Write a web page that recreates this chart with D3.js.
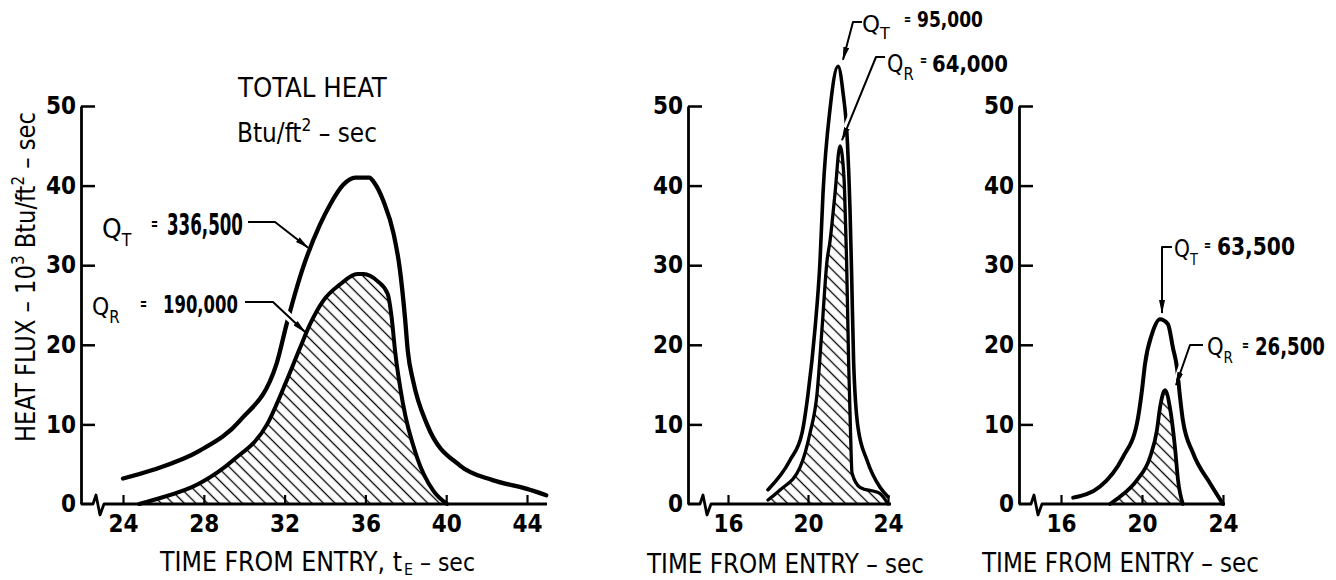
<!DOCTYPE html>
<html>
<head>
<meta charset="utf-8">
<script src="https://cdn.jsdelivr.net/npm/d3@7"></script>
<style>
  body { margin: 0; background: #fff; }
  svg { display: block; }
  text { font-family: "Liberation Sans Narrow", "DejaVu Sans Condensed", "Liberation Sans", sans-serif; fill: #000; }
</style>
</head>
<body>
<svg id="chart" width="1336" height="580"></svg>
<script>
// tick labels
var fluxTicks = [0, 10, 20, 30, 40, 50];
var longTimeTicks = [24, 28, 32, 36, 40, 44];
var shortTimeTicks = [16, 20, 24];

// left panel: total heat Q_T and radiative heat Q_R (10^3 Btu/ft2-sec vs sec)
var longTotalTime = [24, 25.5, 27.8, 29.8, 31.6, 32.1, 32.9, 33.75, 34.25, 34.9, 35.5, 36.2, 36.4, 36.9, 37.4, 37.7, 37.96, 38.1, 38.36, 39.05, 40.7, 42.3, 44, 44.95];
var longTotalFlux = [3.2, 4.3, 6.7, 10.5, 17.6, 22.6, 29.6, 35.1, 37.6, 40.1, 41, 41, 40.5, 38, 33.9, 29.6, 23.4, 19.2, 15.5, 10, 4.8, 3.0, 1.9, 1.1];
var longRadTime = [24.8, 25.5, 27.8, 29.45, 31.13, 32.1, 32.76, 33.26, 33.9, 34.75, 35.6, 35.9, 36.6, 37.1, 37.3, 37.47, 37.86, 38.55, 39.35, 40.04];
var longRadFlux = [0, 0.5, 2.6, 5.5, 10, 15.5, 19.6, 22.6, 25.5, 27.6, 28.9, 28.9, 28, 26.4, 23.4, 19.2, 12.6, 5.9, 1.7, 0];

// middle panel
var peakTotalTime = [18.0, 19.1, 19.7, 20.0, 20.35, 20.6, 20.75, 21.1, 21.5, 21.75, 21.97, 22.1, 22.18, 22.28, 22.5, 22.95, 23.6, 24.0];
var peakTotalFlux = [1.8, 5.5, 8.9, 13.8, 22, 30.5, 39, 49.6, 55, 51.7, 45.5, 37, 29, 18, 9.6, 5.5, 2.1, 0.9];
var peakRadTime = [18.0, 18.6, 19.6, 20.1, 20.45, 20.7, 20.95, 21.1, 21.35, 21.6, 21.8, 21.88, 21.93, 22.03, 22.12, 22.2, 22.6, 23.6, 24.0];
var peakRadFlux = [0.5, 1.75, 4.6, 8.9, 13.8, 22, 30.5, 33, 39, 45, 41, 35, 30.5, 18, 9.6, 3.9, 2.1, 1.3, 0];

// right panel
var lowTotalTime = [16.6, 17.93, 19.06, 19.75, 20.0, 20.15, 20.5, 20.89, 21.28, 21.53, 21.73, 21.88, 22.02, 22.52, 23.36, 24.0];
var lowTotalFlux = [0.8, 2.2, 5.9, 10.1, 14.3, 17.6, 21.4, 23.2, 22.6, 19.6, 17.1, 13.4, 10.5, 6.4, 2.6, 0];
var lowRadTime = [18.42, 18.91, 19.75, 20.4, 20.74, 20.89, 21.14, 21.38, 21.63, 21.78, 22.02];
var lowRadFlux = [0, 0.9, 3.0, 5.9, 9.3, 12.1, 14.3, 12.1, 7.1, 3.0, 0];

var sFont = '"Liberation Sans Narrow", "DejaVu Sans Condensed", "Liberation Sans", sans-serif';

var svg = d3.select("#chart");
var defs = svg.append("defs");

defs.append("pattern")
	.attr("id", "hatch")
	.attr("patternUnits", "userSpaceOnUse")
	.attr("width", 8.2).attr("height", 8.2)
	.attr("patternTransform", "rotate(-45)")
	.append("line")
		.attr("x1", 4.1).attr("y1", -1).attr("x2", 4.1).attr("y2", 9.2)
		.attr("stroke", "#000").attr("stroke-width", 1.3);

defs.append("marker")
	.attr("id", "arrow")
	.attr("viewBox", "0 0 14 6")
	.attr("refX", 13).attr("refY", 3)
	.attr("markerWidth", 14).attr("markerHeight", 6)
	.attr("markerUnits", "userSpaceOnUse")
	.attr("orient", "auto")
	.append("path").attr("d", "M0,0L14,3L0,6Z").attr("fill", "#000");

function DrawPanel(oPanel)
{
	var x = d3.scaleLinear().domain(oPanel.domain).range(oPanel.range);
	var y = d3.scaleLinear().domain([0, 50]).range([504, 106]);
	var g = svg.append("g");
	var x0 = oPanel.range[0], x1 = oPanel.range[1], y0 = y(0);

	var radPts = d3.zip(oPanel.radTime, oPanel.radFlux);
	var totPts = d3.zip(oPanel.totTime, oPanel.totFlux);

	var area = d3.area().curve(d3.curveMonotoneX)
		.x(function(d) { return x(d[0]); })
		.y0(y0)
		.y1(function(d) { return y(d[1]); });
	var line = d3.line().curve(d3.curveMonotoneX)
		.x(function(d) { return x(d[0]); })
		.y(function(d) { return y(d[1]); });

	g.append("path").datum(radPts).attr("d", area).attr("fill", "url(#hatch)");

	// time axis: ticks point up, labels below, the line itself drawn with a break
	var xAxis = g.append("g")
		.attr("transform", "translate(0," + y0 + ")")
		.call(d3.axisBottom(x).tickValues(oPanel.ticks).tickSize(-9).tickPadding(11).tickFormat(d3.format("d")));
	xAxis.select(".domain").remove();
	xAxis.attr("font-size", 24).attr("font-family", sFont).attr("font-weight", "bold");
	xAxis.selectAll(".tick line").attr("stroke-width", 2.2);

	g.append("path")
		.attr("d", d3.line()([[x0, y0], [x0 + 12, y0], [x0 + 15, y0 - 9], [x0 + 19, y0 + 11], [x0 + 23, y0], [x1, y0]]))
		.attr("fill", "none").attr("stroke", "#000").attr("stroke-width", 2.8).attr("stroke-linejoin", "round");

	var yAxis = g.append("g")
		.attr("transform", "translate(" + x0 + ",0)")
		.call(d3.axisLeft(y).tickValues(fluxTicks).tickSize(-14).tickSizeOuter(0).tickPadding(5));
	yAxis.attr("font-size", 24).attr("font-family", sFont).attr("font-weight", "bold");
	yAxis.select(".domain").attr("stroke-width", 2.8);
	yAxis.selectAll(".tick line").attr("stroke-width", 2.5);
	yAxis.selectAll(".tick").filter(function(d) { return d === 0; }).select("line").remove();

	g.append("path").datum(radPts).attr("d", line)
		.attr("fill", "none").attr("stroke", "#000").attr("stroke-width", oPanel.strokeR)
		.attr("stroke-linecap", "round").attr("stroke-linejoin", "round");
	g.append("path").datum(totPts).attr("d", line)
		.attr("fill", "none").attr("stroke", "#000").attr("stroke-width", oPanel.strokeT)
		.attr("stroke-linecap", "round").attr("stroke-linejoin", "round");

	return { g: g, x: x, y: y };
}

// text squeezed horizontally to a wanted width (the lettering is condensed)
// aParts: [text, fontSize, dy] pieces, the first is the text itself
function Txt(g, x, y, aParts, w, bold, rot)
{
	var t = g.append("text").attr("font-size", aParts[0][1]).text(aParts[0][0]);
	if (bold) t.attr("font-weight", "bold");
	for (var i = 1; i < aParts.length; i++) {
		t.append("tspan").attr("font-size", aParts[i][1]).attr("dy", aParts[i][2] || 0).text(aParts[i][0]);
	}
	if (rot) t.attr("text-anchor", "middle");
	var k = w ? w / t.node().getBBox().width : 1;
	t.attr("transform", "translate(" + x + "," + y + ")" + (rot ? " rotate(" + rot + ")" : "") + " scale(" + k + ",1)");
	return t;
}

// leader line to a curve, with an optional white halo where it crosses the other curve
function Leader(g, aPts, aHalo)
{
	if (aHalo) {
		var p = aPts[aPts.length - 2], q = aPts[aPts.length - 1];
		var a = [p[0] + (q[0] - p[0]) * aHalo[0], p[1] + (q[1] - p[1]) * aHalo[0]];
		var b = [p[0] + (q[0] - p[0]) * aHalo[1], p[1] + (q[1] - p[1]) * aHalo[1]];
		g.append("path").attr("d", d3.line()([a, b]))
			.attr("stroke", "#fff").attr("stroke-width", 8).attr("fill", "none");
	}
	g.append("path").attr("d", d3.line()(aPts))
		.attr("fill", "none").attr("stroke", "#000").attr("stroke-width", 2)
		.attr("stroke-linejoin", "round")
		.attr("marker-end", "url(#arrow)");
}

var p1 = DrawPanel({ domain: [21.92, 44.99], range: [81, 547], ticks: longTimeTicks, strokeT: 4.3, strokeR: 4,
	totTime: longTotalTime, totFlux: longTotalFlux, radTime: longRadTime, radFlux: longRadFlux });
var p2 = DrawPanel({ domain: [14, 24.15], range: [688, 891], ticks: shortTimeTicks, strokeT: 3.6, strokeR: 3.3,
	totTime: peakTotalTime, totFlux: peakTotalFlux, radTime: peakRadTime, radFlux: peakRadFlux });
var p3 = DrawPanel({ domain: [13.926, 24.1], range: [1019, 1225], ticks: shortTimeTicks, strokeT: 4, strokeR: 3.8,
	totTime: lowTotalTime, totFlux: lowTotalFlux, radTime: lowRadTime, radFlux: lowRadFlux });

// left panel texts
var g1 = p1.g;
Txt(g1, 238, 97, [["TOTAL HEAT", 27]], 150);
Txt(g1, 237, 142, [["Btu/ft", 27], ["2", 18, -11], [" \u2013 sec", 27, 11]], 140);

Txt(g1, 102, 238, [["Q", 27], ["T", 17, 8]], 30);
Txt(g1, 151, 230, [["=", 18]], 7, true);
Txt(g1, 167, 235, [["336,500", 30]], 76, true);
Leader(g1, [[248, 222], [275, 222], [p1.x(33.16), p1.y(32.2)]]);

Txt(g1, 92, 315, [["Q", 25], ["R", 17, 8]], 28);
Txt(g1, 140, 310, [["=", 18]], 7, true);
Txt(g1, 163, 313, [["190,000", 25]], 75, true);
Leader(g1, [[245, 302], [273, 302], [p1.x(33.01), p1.y(21.6)]], [0.25, 0.62]);

Txt(g1, 35, 277, [["HEAT FLUX \u2013 10", 27], ["3", 18, -11], [" Btu/ft", 27, 11], ["2", 18, -11], [" \u2013 sec", 27, 11]], 330, false, -90);

Txt(g1, 160, 571, [["TIME FROM ENTRY, t", 27]], 243);
Txt(g1, 404, 575, [["E", 15]], 9);
Txt(g1, 420, 571, [["\u2013 sec", 24]], 55);

// middle panel texts
var g2 = p2.g;
Txt(g2, 862, 32, [["Q", 23], ["T", 16, 7]], 28);
Txt(g2, 904, 24, [["=", 16]], 7, true);
Txt(g2, 917, 27, [["95,000", 22]], 66, true);
Leader(g2, [[862, 22], [853, 22], [p2.x(21.75), p2.y(55.8)]]);

Txt(g2, 887, 72, [["Q", 24], ["R", 17, 8]], 27);
Txt(g2, 920, 65, [["=", 16]], 7, true);
Txt(g2, 932, 72, [["64,000", 23]], 76, true);
Leader(g2, [[885, 57], [876, 57], [p2.x(21.7), p2.y(45.7)]], [0.68, 0.88]);

Txt(g2, 647, 573, [["TIME FROM ENTRY \u2013 sec", 27]], 278);

// right panel texts
var g3 = p3.g;
Txt(g3, 1174, 257, [["Q", 25], ["T", 16, 8]], 24);
Txt(g3, 1204, 250, [["=", 16]], 7, true);
Txt(g3, 1217, 255, [["63,500", 25]], 78, true);
Leader(g3, [[1172, 247], [1162, 247], [p3.x(20.99), p3.y(24.0)]]);

Txt(g3, 1207, 355, [["Q", 25], ["R", 16, 8]], 26);
Txt(g3, 1242, 350, [["=", 16]], 7, true);
Txt(g3, 1255, 355, [["26,500", 25]], 70, true);
Leader(g3, [[1203, 345], [1190, 345], [p3.x(21.68), p3.y(14.95)]], [0.5, 0.85]);

Txt(g3, 982, 572, [["TIME FROM ENTRY \u2013 sec", 27]], 278);
</script>
</body>
</html>
